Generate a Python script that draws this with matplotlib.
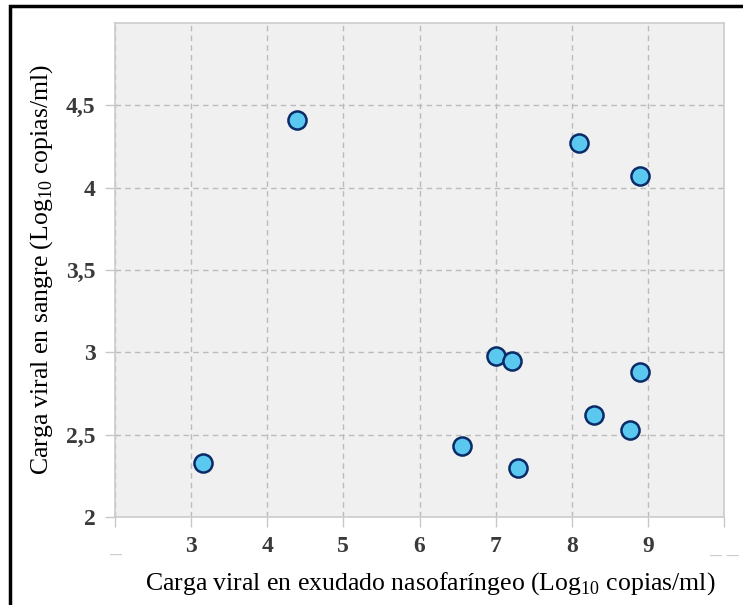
import matplotlib.pyplot as plt
from matplotlib.patches import Rectangle

# data
x_naso = [3.16, 4.39, 8.10, 8.89, 7.01, 7.21, 8.89, 8.29, 8.76, 6.56, 7.29]
y_sangre = [2.33, 4.41, 4.27, 4.07, 2.98, 2.95, 2.88, 2.62, 2.53, 2.43, 2.30]

x_ticks = [2, 3, 4, 5, 6, 7, 8, 9, 10]
x_labels = ["_", "3", "4", "5", "6", "7", "8", "9", "_ _"]
y_ticks = [2, 2.5, 3, 3.5, 4, 4.5]
y_labels = ["2", "2,5", "3", "3,5", "4", "4,5"]

plt.rcParams['font.family'] = ['Liberation Serif', 'DejaVu Serif']
plt.rcParams['mathtext.fontset'] = 'custom'
plt.rcParams['mathtext.rm'] = 'Liberation Serif'

fig = plt.figure(figsize=(7.43, 6.05), dpi=100)
ax = fig.add_axes([115 / 743, 1 - 517 / 605, (724 - 115) / 743, (517 - 23) / 605])

ax.set_facecolor('#f0f0f0')
ax.scatter(x_naso, y_sangre, s=170, color='#5bc8f0', edgecolor='#0b2a68',
           linewidth=1.8, zorder=3)

ax.set_xlim(2, 10)
ax.set_ylim(2, 5)
ax.set_xticks(x_ticks)
ax.set_xticklabels(x_labels)
ax.set_yticks(y_ticks)
ax.set_yticklabels(y_labels)
for i, lbl in enumerate(ax.get_xticklabels()):
    lbl.set_fontweight('bold')
    lbl.set_color('#cccccc' if i in (0, len(x_ticks) - 1) else '#3a3a3a')
for lbl in ax.get_yticklabels():
    lbl.set_fontweight('bold')
    lbl.set_color('#3a3a3a')
ax.tick_params(labelsize=17, length=7, color='#c8c8c8', width=1, pad=7)

ax.grid(True, linestyle=(0, (4, 3)), color='#bbbbbb', linewidth=1)
ax.set_axisbelow(True)
for s in ax.spines.values():
    s.set_color('#cccccc')
    s.set_linewidth(1.2)

ax.set_xlabel(r'Carga viral en exudado nasofaríngeo (Log$_{10}$ copias/ml)',
              fontsize=18.5)
ax.xaxis.set_label_coords(0.518, -0.108)
ax.set_ylabel(r'Carga viral en sangre (Log$_{10}$ copias/ml)',
              fontsize=18.5, labelpad=8)

# outer black frame
fig.patches.append(Rectangle((10 / 743, -0.05), 1.1, 1 - 6 / 605 + 0.05,
                             transform=fig.transFigure, fill=False,
                             edgecolor='black', linewidth=2.5))

plt.savefig("out.png", dpi=100)
